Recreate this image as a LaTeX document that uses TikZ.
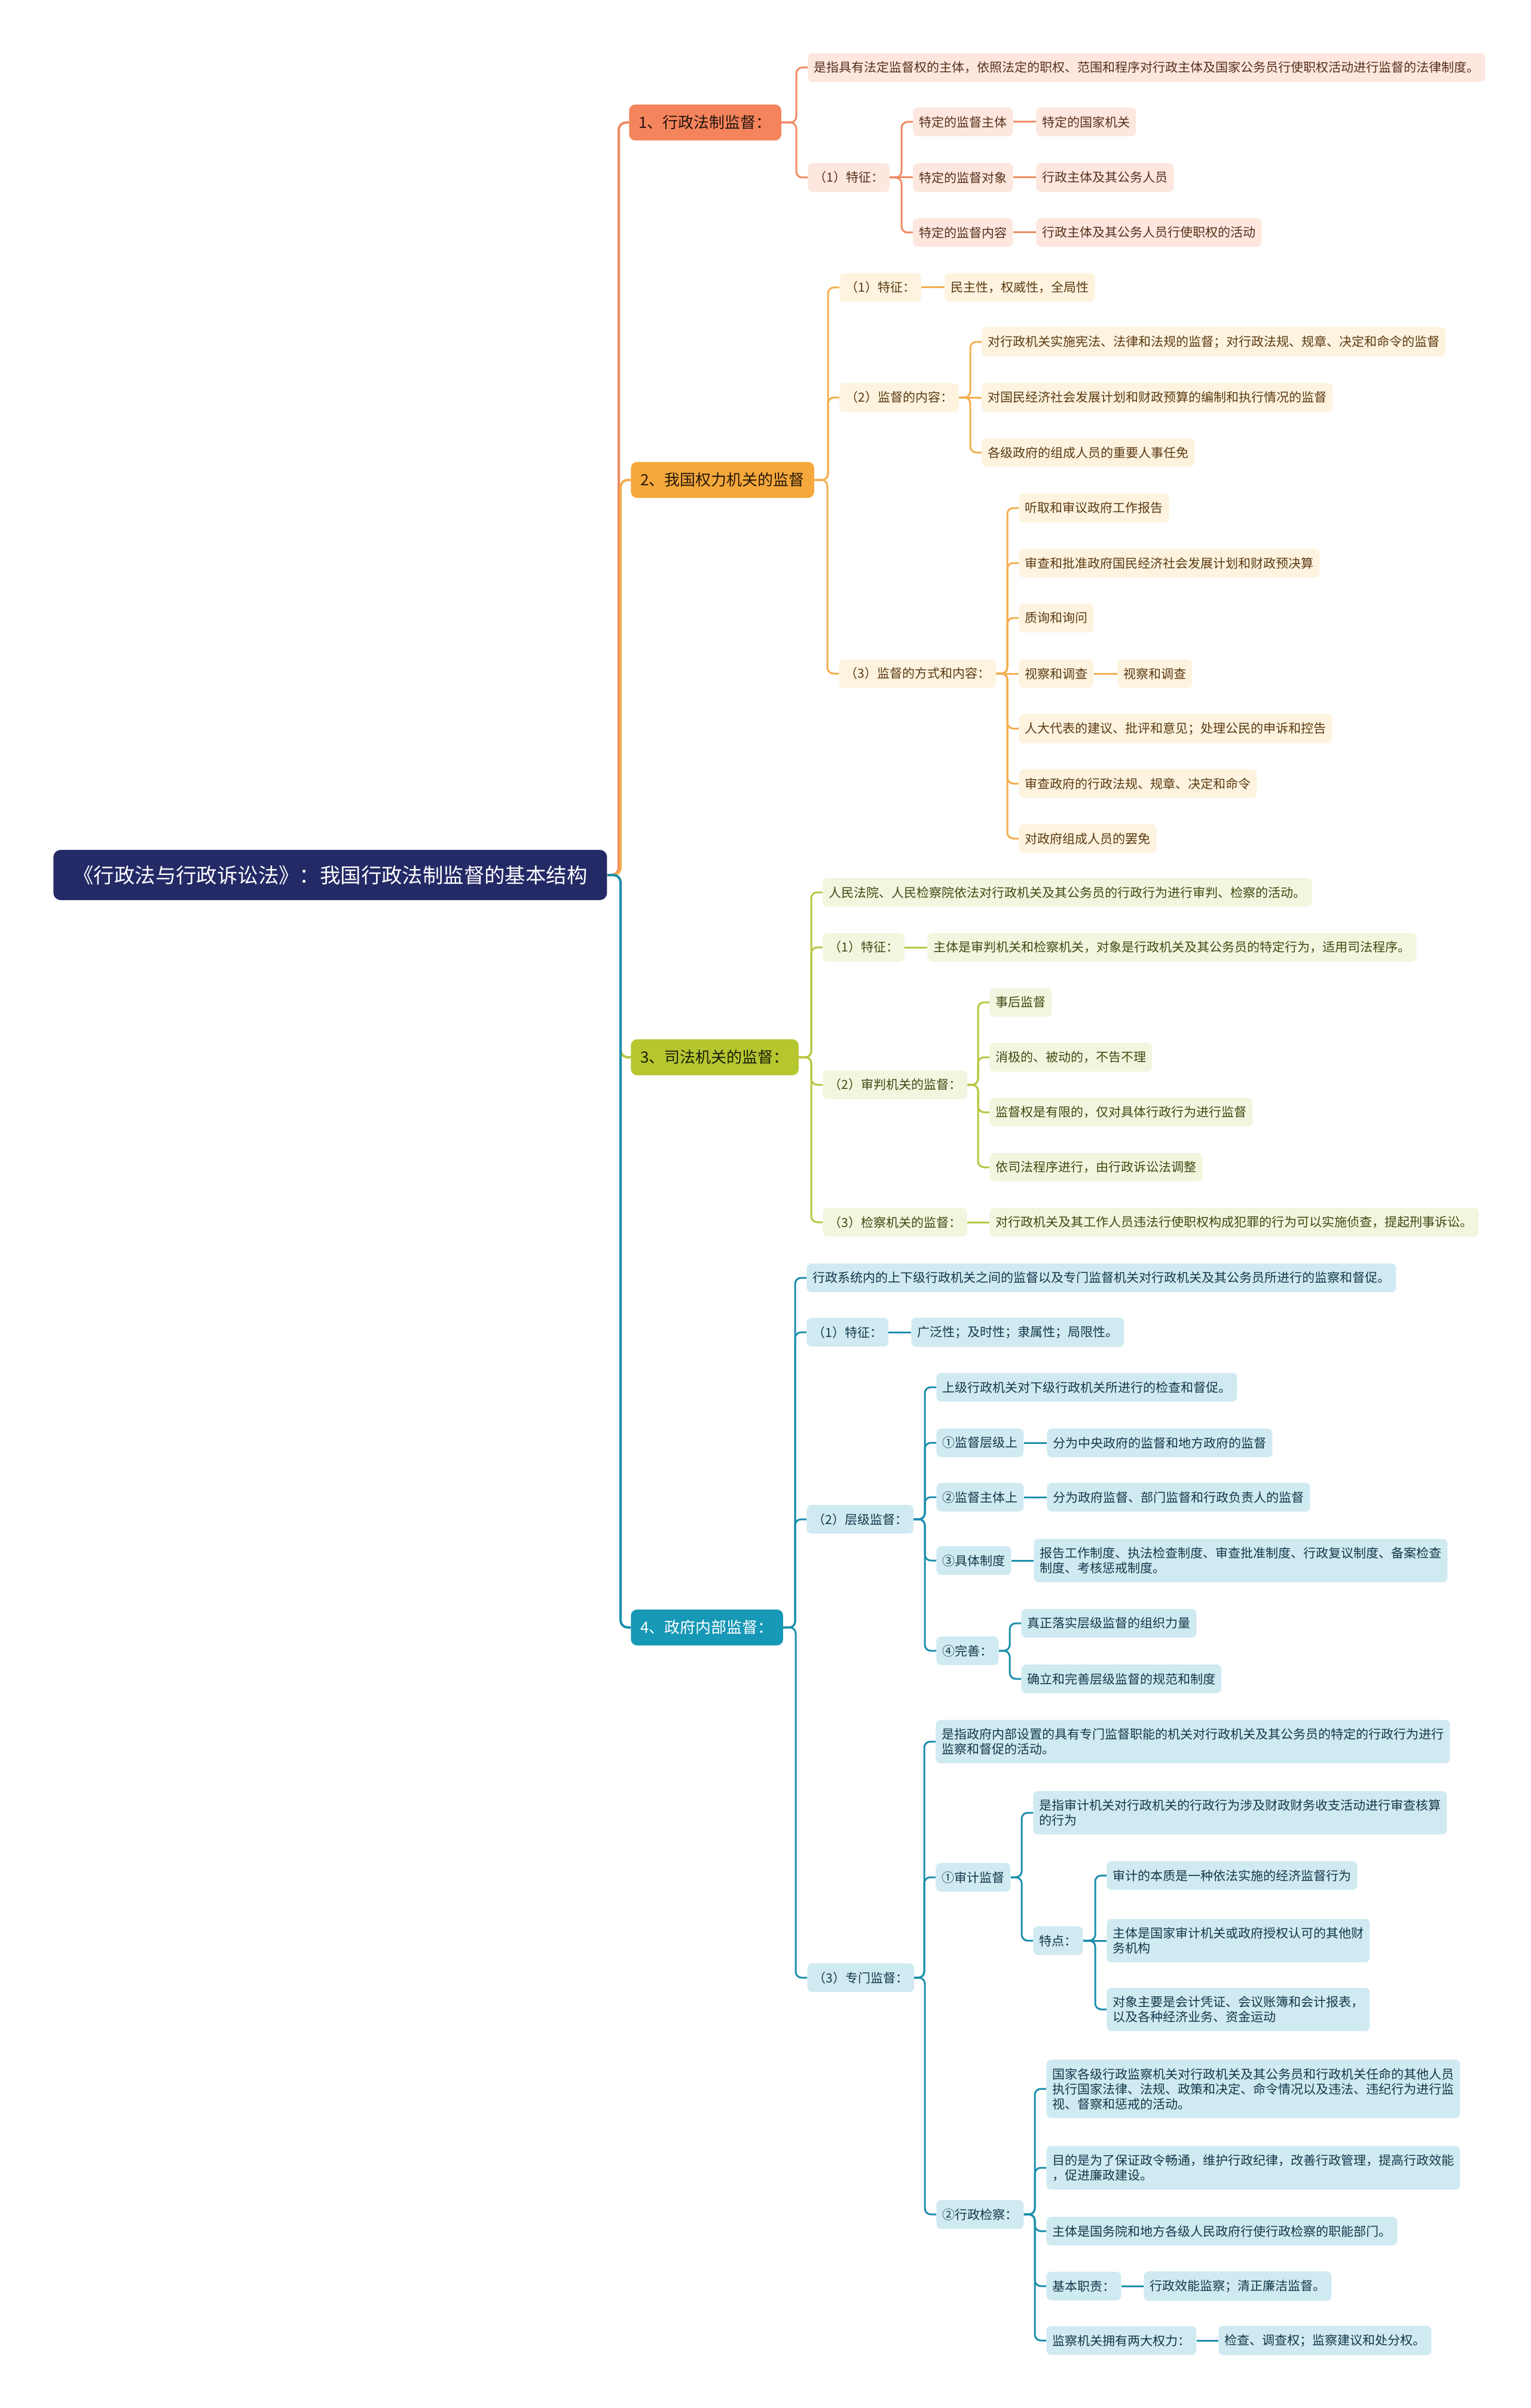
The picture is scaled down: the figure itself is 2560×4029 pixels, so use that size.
\documentclass[tikz,border=0pt]{standalone}
\usepackage{fontspec}
\setmainfont{Noto Sans CJK SC}
\definecolor{rootc}{HTML}{242A66}
\definecolor{m1c}{HTML}{F4845C}
\definecolor{m2c}{HTML}{F6A83C}
\definecolor{m3c}{HTML}{B6C62F}
\definecolor{m4c}{HTML}{1698B6}
\definecolor{l1c}{HTML}{EF8A62}
\definecolor{l2c}{HTML}{F3AE4E}
\definecolor{l3c}{HTML}{B7C640}
\definecolor{l4c}{HTML}{1C8FAD}
\definecolor{f1c}{HTML}{FDE7DE}
\definecolor{f2c}{HTML}{FEF3DF}
\definecolor{f3c}{HTML}{F3F6DF}
\definecolor{f4c}{HTML}{D0EAF2}
\definecolor{t1c}{HTML}{55301C}
\definecolor{t2c}{HTML}{5A3A12}
\definecolor{t3c}{HTML}{3F4A12}
\definecolor{t4c}{HTML}{13384A}
\tikzset{
  subbox/.style={rounded corners=4pt, anchor=west, inner xsep=5pt, inner ysep=7pt,
    minimum height=24pt, align=left, font=\fontsize{10.5}{12.5}\selectfont},
  s1/.style={subbox, fill=f1c, text=t1c},
  s2/.style={subbox, fill=f2c, text=t2c},
  s3/.style={subbox, fill=f3c, text=t3c},
  s4/.style={subbox, fill=f4c, text=t4c},
  mainbox/.style={rounded corners=5pt, anchor=west, inner xsep=8pt, minimum height=30pt,
    font=\fontsize{13}{15}\selectfont},
  m1/.style={mainbox, fill=m1c, text=black!85!m1c},
  m2/.style={mainbox, fill=m2c, text=black!85!m2c},
  m3/.style={mainbox, fill=m3c, text=black!85!m3c},
  m4/.style={mainbox, fill=m4c, text=white},
  rootbox/.style={rounded corners=6pt, anchor=west, inner xsep=10.5pt, minimum height=42pt,
    minimum width=463pt, fill=rootc, text=white, font=\fontsize{17.2}{20}\selectfont},
  lm1/.style={draw=l1c, line width=2pt, rounded corners=6pt},
  lm2/.style={draw=l2c, line width=2pt, rounded corners=6pt},
  lm3/.style={draw=l3c, line width=2pt, rounded corners=6pt},
  lm4/.style={draw=l4c, line width=2pt, rounded corners=6pt},
  l1/.style={draw=l1c, line width=1.5pt, rounded corners=5pt},
  l2/.style={draw=l2c, line width=1.5pt, rounded corners=5pt},
  l3/.style={draw=l3c, line width=1.5pt, rounded corners=5pt},
  l4/.style={draw=l4c, line width=1.5pt, rounded corners=5pt},
}
\begin{document}
\begin{tikzpicture}[x=0.5pt, y=-0.5pt]
\useasboundingbox[fill=white] (0,0) rectangle (2560,4029);

% root
\node[rootbox] (r) at (89,1464) {《行政法与行政诉讼法》：我国行政法制监督的基本结构};

% ---------- branch 1
\node[m1] (n1) at (1052,205) {1、行政法制监督：};
\node[s1] (a1) at (1351,113) {是指具有法定监督权的主体，依照法定的职权、范围和程序对行政主体及国家公务员行使职权活动进行监督的法律制度。};
\node[s1] (a2) at (1351,297) {（1）特征：};
\node[s1] (a21) at (1527,204) {特定的监督主体};
\node[s1] (a211) at (1733,204) {特定的国家机关};
\node[s1] (a22) at (1527,297) {特定的监督对象};
\node[s1] (a221) at (1733,297) {行政主体及其公务人员};
\node[s1] (a23) at (1527,389) {特定的监督内容};
\node[s1] (a231) at (1733,389) {行政主体及其公务人员行使职权的活动};

% ---------- branch 2
\node[m2] (n2) at (1055,803) {2、我国权力机关的监督};
\node[s2] (b1) at (1404,481) {（1）特征：};
\node[s2] (b11) at (1580,481) {民主性，权威性，全局性};
\node[s2] (b2) at (1404,665) {（2）监督的内容：};
\node[s2] (b21) at (1642,572) {对行政机关实施宪法、法律和法规的监督；对行政法规、规章、决定和命令的监督};
\node[s2] (b22) at (1642,665) {对国民经济社会发展计划和财政预算的编制和执行情况的监督};
\node[s2] (b23) at (1642,757) {各级政府的组成人员的重要人事任免};
\node[s2] (b3) at (1403,1127) {（3）监督的方式和内容：};
\node[s2] (b31) at (1704,850) {听取和审议政府工作报告};
\node[s2] (b32) at (1704,942) {审查和批准政府国民经济社会发展计划和财政预决算};
\node[s2] (b33) at (1704,1034) {质询和询问};
\node[s2] (b34) at (1704,1127) {视察和调查};
\node[s2] (b341) at (1869,1127) {视察和调查};
\node[s2] (b35) at (1704,1219) {人大代表的建议、批评和意见；处理公民的申诉和控告};
\node[s2] (b36) at (1704,1311) {审查政府的行政法规、规章、决定和命令};
\node[s2] (b37) at (1704,1403) {对政府组成人员的罢免};

% ---------- branch 3
\node[m3] (n3) at (1055,1769) {3、司法机关的监督：};
\node[s3] (c1) at (1376,1493) {人民法院、人民检察院依法对行政机关及其公务员的行政行为进行审判、检察的活动。};
\node[s3] (c2) at (1376,1585) {（1）特征：};
\node[s3] (c21) at (1551,1585) {主体是审判机关和检察机关，对象是行政机关及其公务员的特定行为，适用司法程序。};
\node[s3] (c3) at (1376,1815) {（2）审判机关的监督：};
\node[s3] (c31) at (1655,1677) {事后监督};
\node[s3] (c32) at (1655,1769) {消极的、被动的，不告不理};
\node[s3] (c33) at (1655,1861) {监督权是有限的，仅对具体行政行为进行监督};
\node[s3] (c34) at (1655,1953) {依司法程序进行，由行政诉讼法调整};
\node[s3] (c4) at (1376,2045) {（3）检察机关的监督：};
\node[s3] (c41) at (1655,2045) {对行政机关及其工作人员违法行使职权构成犯罪的行为可以实施侦查，提起刑事诉讼。};

% ---------- branch 4
\node[m4] (n4) at (1055,2723) {4、政府内部监督：};
\node[s4] (d1) at (1349,2138) {行政系统内的上下级行政机关之间的监督以及专门监督机关对行政机关及其公务员所进行的监察和督促。};
\node[s4] (d2) at (1349,2229) {（1）特征：};
\node[s4] (d21) at (1524,2229) {广泛性；及时性；隶属性；局限性。};
\node[s4] (d3) at (1349,2542) {（2）层级监督：};
\node[s4] (d31) at (1566,2321) {上级行政机关对下级行政机关所进行的检查和督促。};
\node[s4] (d32) at (1566,2414) {①监督层级上};
\node[s4] (d321) at (1751,2414) {分为中央政府的监督和地方政府的监督};
\node[s4] (d33) at (1566,2505) {②监督主体上};
\node[s4] (d331) at (1751,2505) {分为政府监督、部门监督和行政负责人的监督};
\node[s4] (d34) at (1566,2611) {③具体制度};
\node[s4] (d341) at (1729,2611) {报告工作制度、执法检查制度、审查批准制度、行政复议制度、备案检查\\制度、考核惩戒制度。};
\node[s4] (d35) at (1566,2762) {④完善：};
\node[s4] (d351) at (1708,2716) {真正落实层级监督的组织力量};
\node[s4] (d352) at (1708,2809) {确立和完善层级监督的规范和制度};
\node[s4] (d4) at (1350,3309) {（3）专门监督：};
\node[s4] (d41) at (1565,2914) {是指政府内部设置的具有专门监督职能的机关对行政机关及其公务员的特定的行政行为进行\\监察和督促的活动。};
\node[s4] (d42) at (1565,3141) {①审计监督};
\node[s4] (d421) at (1728,3033) {是指审计机关对行政机关的行政行为涉及财政财务收支活动进行审查核算\\的行为};
\node[s4] (d422) at (1728,3247) {特点：};
\node[s4] (d4221) at (1851,3138) {审计的本质是一种依法实施的经济监督行为};
\node[s4] (d4222) at (1851,3247) {主体是国家审计机关或政府授权认可的其他财\\务机构};
\node[s4] (d4223) at (1851,3362) {对象主要是会计凭证、会议账簿和会计报表，\\以及各种经济业务、资金运动};
\node[s4] (d43) at (1566,3705) {②行政检察：};
\node[s4] (d431) at (1750,3495) {国家各级行政监察机关对行政机关及其公务员和行政机关任命的其他人员\\执行国家法律、法规、政策和决定、命令情况以及违法、违纪行为进行监\\视、督察和惩戒的活动。};
\node[s4] (d432) at (1750,3627) {目的是为了保证政令畅通，维护行政纪律，改善行政管理，提高行政效能\\，促进廉政建设。};
\node[s4] (d433) at (1750,3733) {主体是国务院和地方各级人民政府行使行政检察的职能部门。};
\node[s4] (d434) at (1750,3825) {基本职责：};
\node[s4] (d4341) at (1913,3825) {行政效能监察；清正廉洁监督。};
\node[s4] (d435) at (1750,3916) {监察机关拥有两大权力：};
\node[s4] (d4351) at (2038,3916) {检查、调查权；监察建议和处分权。};

% ---------- connectors: root to main
\draw[lm1] (n1.west) -- ++(-17,0) |- (r.east);
\draw[lm2] (n2.west) -- ++(-17,0) |- (r.east);
\draw[lm3] (n3.west) -- ++(-17,0) |- (r.east);
\draw[lm4] (n4.west) -- ++(-17,0) |- (r.east);

% branch 1
\draw[l1] (a1.west) -- ++(-19,0) |- (n1.east);
\draw[l1] (a2.west) -- ++(-19,0) |- (n1.east);
\draw[l1] (a21.west) -- ++(-19,0) |- (a2.east);
\draw[l1] (a22.west) -- (a2.east);
\draw[l1] (a23.west) -- ++(-19,0) |- (a2.east);
\draw[l1] (a21.east) -- (a211.west);
\draw[l1] (a22.east) -- (a221.west);
\draw[l1] (a23.east) -- (a231.west);

% branch 2
\draw[l2] (b1.west) -- ++(-19,0) |- (n2.east);
\draw[l2] (b2.west) -- ++(-19,0) |- (n2.east);
\draw[l2] (b3.west) -- ++(-19,0) |- (n2.east);
\draw[l2] (b1.east) -- (b11.west);
\draw[l2] (b21.west) -- ++(-19,0) |- (b2.east);
\draw[l2] (b22.west) -- (b2.east);
\draw[l2] (b23.west) -- ++(-19,0) |- (b2.east);
\draw[l2] (b31.west) -- ++(-19,0) |- (b3.east);
\draw[l2] (b32.west) -- ++(-19,0) |- (b3.east);
\draw[l2] (b33.west) -- ++(-19,0) |- (b3.east);
\draw[l2] (b34.west) -- (b3.east);
\draw[l2] (b35.west) -- ++(-19,0) |- (b3.east);
\draw[l2] (b36.west) -- ++(-19,0) |- (b3.east);
\draw[l2] (b37.west) -- ++(-19,0) |- (b3.east);
\draw[l2] (b34.east) -- (b341.west);

% branch 3
\draw[l3] (c1.west) -- ++(-19,0) |- (n3.east);
\draw[l3] (c2.west) -- ++(-19,0) |- (n3.east);
\draw[l3] (c3.west) -- ++(-19,0) |- (n3.east);
\draw[l3] (c4.west) -- ++(-19,0) |- (n3.east);
\draw[l3] (c2.east) -- (c21.west);
\draw[l3] (c31.west) -- ++(-19,0) |- (c3.east);
\draw[l3] (c32.west) -- ++(-19,0) |- (c3.east);
\draw[l3] (c33.west) -- ++(-19,0) |- (c3.east);
\draw[l3] (c34.west) -- ++(-19,0) |- (c3.east);
\draw[l3] (c4.east) -- (c41.west);

% branch 4
\draw[l4] (d1.west) -- ++(-19,0) |- (n4.east);
\draw[l4] (d2.west) -- ++(-19,0) |- (n4.east);
\draw[l4] (d3.west) -- ++(-19,0) |- (n4.east);
\draw[l4] (d4.west) -- ++(-19,0) |- (n4.east);
\draw[l4] (d2.east) -- (d21.west);
\draw[l4] (d31.west) -- ++(-19,0) |- (d3.east);
\draw[l4] (d32.west) -- ++(-19,0) |- (d3.east);
\draw[l4] (d33.west) -- ++(-19,0) |- (d3.east);
\draw[l4] (d34.west) -- ++(-19,0) |- (d3.east);
\draw[l4] (d35.west) -- ++(-19,0) |- (d3.east);
\draw[l4] (d32.east) -- (d321.west);
\draw[l4] (d33.east) -- (d331.west);
\draw[l4] (d34.east) -- (d341.west);
\draw[l4] (d351.west) -- ++(-19,0) |- (d35.east);
\draw[l4] (d352.west) -- ++(-19,0) |- (d35.east);
\draw[l4] (d41.west) -- ++(-19,0) |- (d4.east);
\draw[l4] (d42.west) -- ++(-19,0) |- (d4.east);
\draw[l4] (d43.west) -- ++(-19,0) |- (d4.east);
\draw[l4] (d421.west) -- ++(-19,0) |- (d42.east);
\draw[l4] (d422.west) -- ++(-19,0) |- (d42.east);
\draw[l4] (d4221.west) -- ++(-19,0) |- (d422.east);
\draw[l4] (d4222.west) -- (d422.east);
\draw[l4] (d4223.west) -- ++(-19,0) |- (d422.east);
\draw[l4] (d431.west) -- ++(-19,0) |- (d43.east);
\draw[l4] (d432.west) -- ++(-19,0) |- (d43.east);
\draw[l4] (d433.west) -- ++(-19,0) |- (d43.east);
\draw[l4] (d434.west) -- ++(-19,0) |- (d43.east);
\draw[l4] (d435.west) -- ++(-19,0) |- (d43.east);
\draw[l4] (d434.east) -- (d4341.west);
\draw[l4] (d435.east) -- (d4351.west);
\end{tikzpicture}
\end{document}
